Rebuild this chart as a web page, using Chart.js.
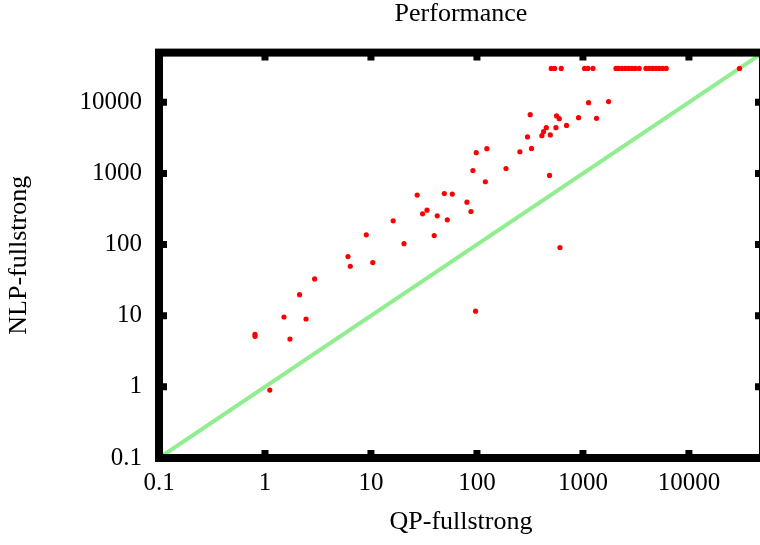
<!DOCTYPE html>
<html>
<head>
<meta charset="utf-8">
<script src="https://cdn.jsdelivr.net/npm/chart.js@4.4.0/dist/chart.umd.min.js"></script>
<style>
  html, body { margin: 0; padding: 0; overflow: hidden; background: #fff; }
  canvas { display: block; }
</style>
</head>
<body>
<canvas id="myChart" width="780" height="545"></canvas>
<script>
// QP-fullstrong time (x) and NLP-fullstrong time (y), one entry per instance
const qpTimes = [
  2.94, 2.12, 1.51, 2.44, 0.805, 0.805, 1.72, 1.11,
  120, 27.3, 49.2, 58.5, 80.5, 33.8, 30.7, 42.2, 52.5, 87.8, 16.2, 9.03, 39.5, 20.5, 6.07, 6.38, 10.4,
  1130, 1745, 318, 564, 598, 909, 1343, 700, 451, 556, 425, 410, 492, 300,
  98.5, 124, 254, 327, 91.6, 188, 484,
  607, 97,
  502, 540, 624, 1035, 1115, 1243, 2048, 2168, 2333, 2506, 2694, 2898, 3115, 3398,
  3930, 4220, 4540, 4885, 5250, 5640, 6110, 30000
];
const nlpTimes = [
  32.9, 19.8, 9.6, 9.0, 5.47, 5.13, 4.7, 0.9,
  764, 496, 523, 513, 395, 305, 271, 254, 223, 292, 216, 137, 134, 103, 67.8, 49.6, 55.8,
  9900, 10230, 6710, 6430, 5890, 6090, 5950, 4740, 4400, 4400, 3870, 3400, 3480, 3260,
  1960, 2230, 2020, 2250, 1100, 1175, 937,
  91, 11.6,
  30000, 30000, 30000, 30000, 30000, 30000, 30000, 30000, 30000, 30000, 30000, 30000, 30000, 30000,
  30000, 30000, 30000, 30000, 30000, 30000, 30000, 30000
];
const tickValues = [0.1, 1, 10, 100, 1000, 10000];
const axisMin = 0.1;
const axisMax = 50000;
const diagonal = [axisMin, axisMax];

const serif = 'Liberation Serif';

// thick gnuplot-style frame with inward ticks
const framePlugin = {
  id: 'frame',
  afterDatasetsDraw(chart) {
    const { ctx, chartArea: a, scales } = chart;
    ctx.save();
    ctx.strokeStyle = '#000';
    ctx.lineWidth = 8;
    ctx.strokeRect(a.left, a.top, a.right - a.left, a.bottom - a.top);
    ctx.lineWidth = 7;
    ctx.beginPath();
    tickValues.forEach(v => {
      const px = scales.x.getPixelForValue(v);
      ctx.moveTo(px, a.bottom); ctx.lineTo(px, a.bottom - 8);
      ctx.moveTo(px, a.top); ctx.lineTo(px, a.top + 8);
      const py = scales.y.getPixelForValue(v);
      ctx.moveTo(a.left, py); ctx.lineTo(a.left + 8, py);
      ctx.moveTo(a.right, py); ctx.lineTo(a.right - 8, py);
    });
    ctx.stroke();
    ctx.restore();
  }
};

const setTicks = scale => { scale.ticks = tickValues.map(v => ({ value: v })); };

const ctx = document.getElementById('myChart').getContext('2d');
const chart = new Chart(ctx, {
  type: 'scatter',
  data: {
    datasets: [{
      label: 'instances',
      data: qpTimes.map((x, i) => ({ x: x, y: nlpTimes[i] })),
      backgroundColor: '#ff0000',
      borderWidth: 0,
      pointRadius: 2.6
    }, {
      label: 'x = y',
      type: 'line',
      data: diagonal.map(v => ({ x: v, y: v })),
      borderColor: '#90ee90',
      borderWidth: 4,
      pointRadius: 0,
      fill: false
    }]
  },
  options: {
    responsive: false,
    animation: false,
    layout: { padding: { left: 0, right: 17, top: 0, bottom: 0 } },
    plugins: {
      legend: { display: false },
      tooltip: { enabled: false },
      title: {
        display: true,
        text: 'Performance',
        fullSize: false,
        color: '#000',
        font: { family: serif, size: 26, weight: 'normal', lineHeight: 1.1 },
        padding: { top: 0, bottom: 24 }
      }
    },
    scales: {
      x: {
        type: 'logarithmic',
        position: 'bottom',
        min: axisMin,
        max: axisMax,
        afterBuildTicks: setTicks,
        afterFit: s => { s.height = 87; },
        grid: { display: false, drawTicks: false },
        border: { display: false },
        ticks: {
          color: '#000',
          font: { family: serif, size: 25 },
          padding: 10,
          autoSkip: false,
          maxRotation: 0,
          callback: v => String(v)
        },
        title: {
          display: true,
          text: 'QP-fullstrong',
          color: '#000',
          font: { family: serif, size: 26 },
          padding: { top: 0, bottom: 7 }
        }
      },
      y: {
        type: 'logarithmic',
        position: 'left',
        min: axisMin,
        max: axisMax,
        afterBuildTicks: setTicks,
        afterFit: s => { s.width = 159; },
        grid: { display: false, drawTicks: false },
        border: { display: false },
        ticks: {
          color: '#000',
          font: { family: serif, size: 25 },
          padding: 17,
          autoSkip: false,
          callback: v => String(v)
        },
        title: {
          display: true,
          text: 'NLP-fullstrong',
          color: '#000',
          font: { family: serif, size: 26 },
          padding: { top: 4, bottom: 0 }
        }
      }
    }
  },
  plugins: [framePlugin]
});
</script>
</body>
</html>
